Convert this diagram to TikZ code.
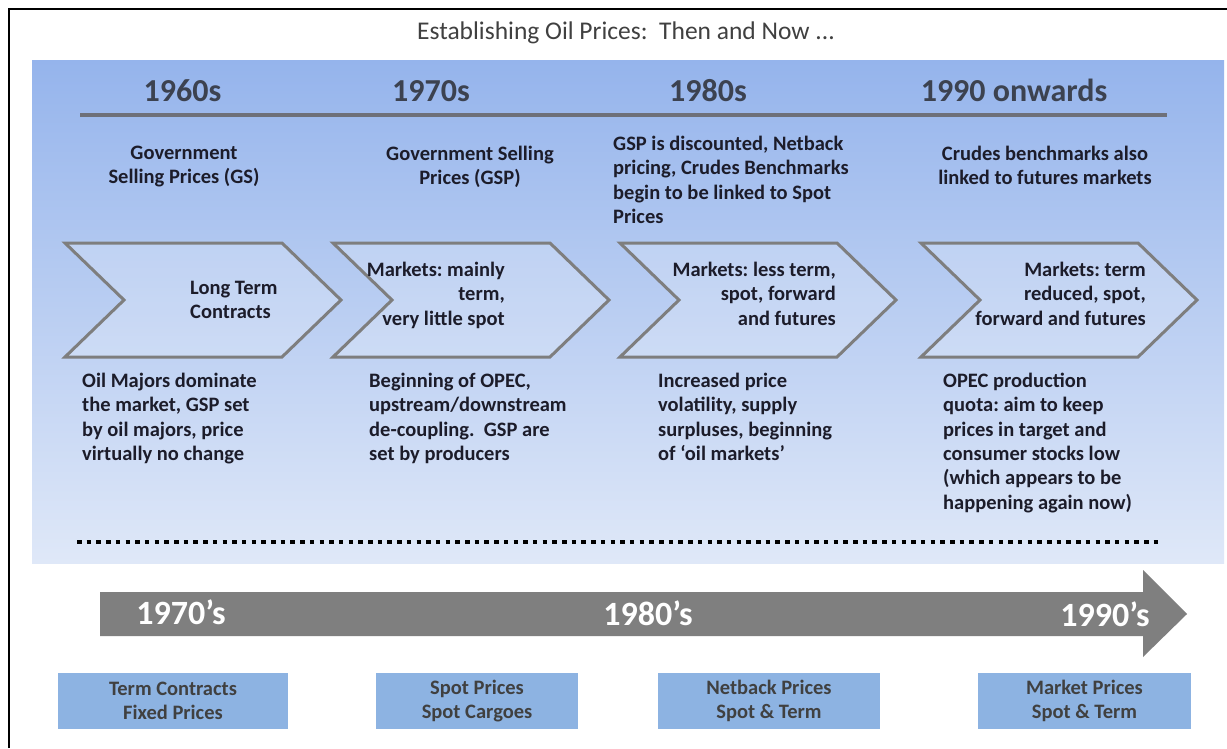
\documentclass[tikz,border=0pt]{standalone}
\usepackage{fontspec}
\setmainfont{Carlito}
\frenchspacing
\definecolor{ink}{HTML}{1C1C2A}
\definecolor{headgrey}{HTML}{3C4250}
\definecolor{titlegrey}{HTML}{404040}
\definecolor{linegrey}{HTML}{6E7079}
\definecolor{chevgrey}{HTML}{7E7E7E}
\definecolor{boxblue}{HTML}{8DB3E2}
\definecolor{boxtext}{HTML}{404040}
\definecolor{arrowgrey}{HTML}{7F7F7F}
\definecolor{panelTop}{HTML}{95B4EC}
\definecolor{panelBot}{HTML}{DFE8F8}
\begin{document}
\begin{tikzpicture}[x=1pt,y=-1pt,
  txt/.style={inner sep=0pt, font=\fontsize{20.5}{24.3}\selectfont\bfseries,
    text=ink, execute at begin node=\strut},
  heading/.style={inner sep=0pt, anchor=base,
    font=\fontsize{32}{38}\selectfont\bfseries, text=headgrey},
  era/.style={inner sep=0pt, anchor=base,
    font=\fontsize{34}{40}\selectfont\bfseries, text=white},
  chev/.style={draw=chevgrey, line width=3pt, fill=white, fill opacity=0.2,
    line join=miter},
  pricebox/.style={fill=boxblue, minimum height=56pt, inner sep=0pt,
    align=center, text=boxtext, font=\fontsize{20.5}{24.3}\selectfont\bfseries}]

\useasboundingbox (0,0) rectangle (1227,748);
\fill[white] (0,0) rectangle (1227,748);
\draw[line width=2.5pt] (9,748) -- (9,9) -- (1227,9);

% title
\node[anchor=base, inner sep=0pt, font=\fontsize{25.5}{30}\selectfont,
  text=titlegrey] (title) at (626,39) {Establishing Oil Prices:~ Then and Now ...};

% shaded panel
\shade[top color=panelTop, bottom color=panelBot] (32,60) rectangle (1224,563);

% decade headings and rule
\node[heading] (h1) at (182.5,101) {1960s};
\node[heading] (h2) at (431,101) {1970s};
\node[heading] (h3) at (708,101) {1980s};
\node[heading] (h4) at (1014,101) {1990 onwards};
\draw[linegrey, line width=4pt] (80,115) -- (1167,115);

% pricing regime per decade
\node[txt, anchor=north, align=center] (d1) at (184,146) {Government\\Selling Prices (GS)};
\node[txt, anchor=north, align=center] (d2) at (470,146) {Government Selling\\Prices (GSP)};
\node[txt, anchor=north west, align=left] (d3) at (613,136)
  {GSP is discounted, Netback\\pricing, Crudes Benchmarks\\begin to be linked to Spot\\Prices};
\node[txt, anchor=north, align=center] (d4) at (1045,146) {Crudes benchmarks also\\linked to futures markets};

% chevrons
\foreach \x in {65,333,620,921}
  \draw[chev] (\x,243) -- ++(217,0) -- ++(59,57) -- ++(-59,57) -- ++(-217,0)
    -- ++(59,-57) -- cycle;

\node[txt, anchor=north west, align=left] (c1) at (190,281) {Long Term\\Contracts};
\node[txt, anchor=north east, align=right] (c2) at (505,262) {Markets: mainly\\term,\\very little spot};
\node[txt, anchor=north east, align=right] (c3) at (836,262) {Markets: less term,\\spot, forward\\and futures};
\node[txt, anchor=north east, align=right] (c4) at (1146,262) {Markets: term\\reduced, spot,\\forward and futures};

% market conditions
\node[txt, anchor=north west, align=left] (m1) at (82,373)
  {Oil Majors dominate\\the market, GSP set\\by oil majors, price\\virtually no change};
\node[txt, anchor=north west, align=left] (m2) at (369,373)
  {Beginning of OPEC,\\upstream/downstream\\de-coupling.~ GSP are\\set by producers};
\node[txt, anchor=north west, align=left] (m3) at (658,373)
  {Increased price\\volatility, supply\\surpluses, beginning\\of ‘oil markets’};
\node[txt, anchor=north west, align=left] (m4) at (943,373)
  {OPEC production\\quota: aim to keep\\prices in target and\\consumer stocks low\\(which appears to be\\happening again now)};

% dotted separator
\draw[black, line width=4pt, dash pattern=on 4.5pt off 5.2pt] (77,542) -- (1160,542);

% time arrow
\fill[arrowgrey] (100,592) -- (1143,592) -- (1143,570) -- (1187,614)
  -- (1143,657) -- (1143,636) -- (100,636) -- cycle;
\node[era] (e1) at (181,624) {1970’s};
\node[era] (e2) at (648,625) {1980’s};
\node[era] (e3) at (1105,626) {1990’s};

% price types
\node[pricebox, minimum width=230pt] (b1) at (173,701) {Term Contracts\\Fixed Prices};
\node[pricebox, minimum width=202pt] (b2) at (477,701) {Spot Prices\\Spot Cargoes};
\node[pricebox, minimum width=222pt] (b3) at (769,701) {Netback Prices\\Spot \& Term};
\node[pricebox, minimum width=213pt] (b4) at (1084.5,701) {Market Prices\\Spot \& Term};
\end{tikzpicture}
\end{document}
